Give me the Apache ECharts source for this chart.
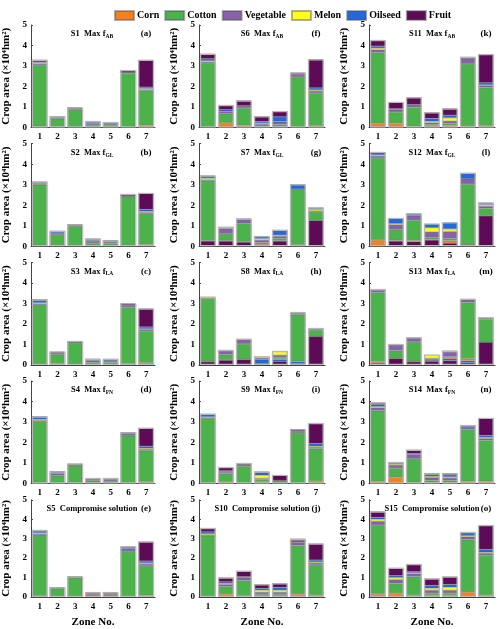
<!DOCTYPE html>
<html>
	<head>
		<meta charset="UTF-8">
		<script type="text/javascript" src="https://cdn.jsdelivr.net/npm/echarts@6/dist/echarts.min.js"></script>
		<title></title>
	</head>
	<body style="margin:0;">
	<div id="graph" style="width: 500px; height: 629px;"></div>
	<script>
		// crop names and colours
		var crops = ['Corn', 'Cotton', 'Vegetable', 'Melon', 'Oilseed', 'Fruit'];
		var colors = ['#f7801e', '#4cb24c', '#8762ab', '#ffff1a', '#2268e0', '#5f0a57'];
		var zones = ['1', '2', '3', '4', '5', '6', '7'];
		var scenarios = ['S1','S2','S3','S4','S5','S6','S7','S8','S9','S10','S11','S12','S13','S14','S15'];
		var objectives = ['AB','GL','LA','FN',''];
		var letters = ['a','b','c','d','e','f','g','h','i','j','k','l','m','n','o'];

		// crop area (x10^4 hm2), one row per scenario, one value per zone
		var corn = [
			[0.05,0.03,0.02,0.02,0.02,0.02,0.10],
			[0.03,0.05,0.02,0.05,0.02,0.02,0.08],
			[0.03,0.05,0.02,0.02,0.02,0.05,0.10],
			[0.05,0.03,0.02,0.02,0.02,0.03,0.08],
			[0.05,0.03,0.02,0.02,0.02,0.02,0.08],
			[0.02,0.22,0.10,0.03,0.03,0.02,0.08],
			[0.02,0.02,0.02,0.05,0.02,0.02,0.00],
			[0.02,0.02,0.02,0.03,0.04,0.02,0.00],
			[0.03,0.08,0.03,0.08,0.02,0.02,0.12],
			[0.03,0.15,0.05,0.05,0.05,0.15,0.10],
			[0.20,0.20,0.05,0.08,0.10,0.07,0.08],
			[0.25,0.03,0.05,0.03,0.12,0.00,0.00],
			[0.05,0.02,0.02,0.02,0.05,0.10,0.00],
			[0.10,0.30,0.05,0.05,0.05,0.10,0.10],
			[0.15,0.20,0.10,0.10,0.10,0.25,0.10]
		];
		var cotton = [
			[3.00,0.40,0.85,0.10,0.10,2.63,1.70],
			[2.97,0.50,0.95,0.10,0.12,2.40,1.50],
			[2.90,0.45,1.05,0.10,0.10,2.75,1.55],
			[3.00,0.35,0.85,0.12,0.10,2.30,1.52],
			[3.15,0.40,0.98,0.10,0.10,2.30,1.52],
			[3.13,0.45,0.85,0.10,0.12,2.45,1.60],
			[2.93,0.33,0.90,0.08,0.12,2.70,0.42],
			[3.05,0.26,0.75,0.02,0.08,2.28,0.32],
			[3.15,0.40,0.82,0.12,0.12,2.45,1.58],
			[3.12,0.40,0.80,0.10,0.10,2.50,1.55],
			[3.45,0.55,0.93,0.08,0.10,3.03,1.87],
			[4.00,0.52,1.00,0.10,0.10,2.95,0.37],
			[3.38,0.38,0.95,0.05,0.05,2.75,1.13],
			[3.45,0.45,1.15,0.10,0.10,2.55,2.00],
			[3.55,0.50,0.95,0.10,0.10,2.70,2.05]
		];
		var vegetable = [
			[0.07,0.05,0.05,0.08,0.04,0.05,0.05],
			[0.03,0.08,0.03,0.10,0.05,0.03,0.07],
			[0.05,0.05,0.05,0.08,0.06,0.05,0.08],
			[0.03,0.10,0.03,0.05,0.06,0.05,0.07],
			[0.05,0.03,0.02,0.05,0.05,0.10,0.10],
			[0.05,0.10,0.10,0.05,0.13,0.05,0.10],
			[0.05,0.25,0.18,0.12,0.10,0.02,0.05],
			[0.03,0.20,0.22,0.05,0.10,0.10,0.05],
			[0.02,0.07,0.05,0.05,0.02,0.05,0.07],
			[0.05,0.10,0.15,0.10,0.10,0.15,0.10],
			[0.15,0.12,0.12,0.08,0.12,0.25,0.10],
			[0.10,0.25,0.23,0.27,0.35,0.27,0.10],
			[0.12,0.28,0.20,0.02,0.28,0.15,0.05],
			[0.15,0.15,0.20,0.15,0.12,0.10,0.10],
			[0.20,0.20,0.15,0.15,0.15,0.15,0.10]
		];
		var melon = [
			[0.05,0.02,0.00,0.02,0.01,0.00,0.05],
			[0.03,0.02,0.00,0.03,0.01,0.00,0.05],
			[0.05,0.02,0.00,0.02,0.02,0.00,0.03],
			[0.05,0.02,0.00,0.00,0.01,0.00,0.05],
			[0.05,0.01,0.00,0.01,0.01,0.00,0.05],
			[0.05,0.02,0.00,0.04,0.02,0.00,0.05],
			[0.07,0.03,0.02,0.07,0.05,0.00,0.07],
			[0.08,0.03,0.03,0.07,0.20,0.02,0.05],
			[0.05,0.03,0.00,0.15,0.00,0.00,0.05],
			[0.05,0.05,0.02,0.10,0.10,0.02,0.05],
			[0.07,0.02,0.00,0.06,0.15,0.00,0.03],
			[0.05,0.05,0.02,0.20,0.12,0.00,0.08],
			[0.05,0.04,0.03,0.18,0.00,0.02,0.05],
			[0.05,0.05,0.02,0.05,0.05,0.00,0.05],
			[0.10,0.10,0.05,0.10,0.15,0.05,0.05]
		];
		var oilseed = [
			[0.10,0.02,0.02,0.05,0.05,0.00,0.07],
			[0.07,0.07,0.02,0.04,0.08,0.00,0.10],
			[0.12,0.00,0.00,0.05,0.05,0.05,0.09],
			[0.10,0.05,0.02,0.03,0.03,0.05,0.10],
			[0.10,0.00,0.00,0.03,0.03,0.08,0.10],
			[0.10,0.08,0.02,0.08,0.22,0.06,0.10],
			[0.13,0.07,0.03,0.12,0.26,0.23,0.10],
			[0.00,0.00,0.00,0.17,0.08,0.07,0.00],
			[0.12,0.04,0.02,0.15,0.00,0.03,0.13],
			[0.10,0.08,0.03,0.10,0.15,0.08,0.10],
			[0.10,0.03,0.03,0.15,0.13,0.03,0.10],
			[0.15,0.28,0.08,0.20,0.32,0.28,0.10],
			[0.08,0.00,0.00,0.05,0.10,0.10,0.00],
			[0.10,0.05,0.05,0.10,0.10,0.05,0.10],
			[0.10,0.10,0.05,0.15,0.15,0.10,0.15]
		];
		var fruit = [
			[0.03,0.03,0.04,0.05,0.05,0.10,1.33],
			[0.02,0.03,0.05,0.05,0.00,0.10,0.80],
			[0.05,0.08,0.05,0.03,0.05,0.10,0.90],
			[0.05,0.05,0.05,0.05,0.05,0.07,0.90],
			[0.05,0.03,0.03,0.04,0.04,0.10,1.00],
			[0.25,0.23,0.25,0.25,0.28,0.10,1.40],
			[0.25,0.25,0.20,0.05,0.25,0.05,1.25],
			[0.15,0.22,0.25,0.08,0.18,0.08,1.38],
			[0.03,0.18,0.08,0.03,0.26,0.10,1.00],
			[0.20,0.22,0.30,0.20,0.20,0.10,0.85],
			[0.30,0.33,0.34,0.29,0.33,0.07,1.40],
			[0.05,0.25,0.22,0.30,0.15,0.08,1.48],
			[0.02,0.30,0.15,0.18,0.20,0.10,1.10],
			[0.10,0.05,0.18,0.05,0.08,0.05,0.85],
			[0.30,0.40,0.40,0.35,0.40,0.10,1.25]
		];
		var cropData = [corn, cotton, vegetable, melon, oilseed, fruit];

		// order of the stacked segments (bottom to top) in each panel
		var normalOrder = [0, 1, 2, 3, 4, 5];
		var stackOrders = {6: [5, 0, 1, 2, 3, 4], 11: [5, 0, 1, 2, 3, 4], 7: [5, 4, 0, 1, 2, 3], 12: [5, 4, 0, 1, 2, 3]};

		var font = '"Liberation Serif", "Times New Roman", serif';
		var colLeft = [29, 199, 369];
		var rowTop = [25, 143.7, 262.4, 381, 499.8];
		var plotW = 126, plotH = 102.5;

		var grids = [], xAxes = [], yAxes = [], series = [], titles = [];
		for (var p = 0; p < 15; p++) {
			var col = Math.floor(p / 5), row = p % 5;
			grids.push({left: colLeft[col], top: rowTop[row], width: plotW, height: plotH});
			xAxes.push({
				type: 'category', gridIndex: p, data: zones,
				name: row == 4 ? 'Zone No.' : '', nameLocation: 'middle', nameGap: 20,
				nameTextStyle: {fontFamily: font, fontWeight: 'bold', fontSize: 11, color: '#000'},
				axisLine: {lineStyle: {color: '#444'}},
				axisTick: {alignWithLabel: true, inside: true, length: 2, lineStyle: {color: '#444'}},
				axisLabel: {fontFamily: font, fontWeight: 'bold', fontSize: 9, color: '#000', margin: 5}
			});
			yAxes.push({
				type: 'value', gridIndex: p, min: 0, max: 5, interval: 1,
				name: 'Crop area (×10⁴hm²)', nameLocation: 'middle', nameGap: 19,
				nameTextStyle: {fontFamily: font, fontWeight: 'bold', fontSize: 11, color: '#000'},
				axisLine: {show: true, lineStyle: {color: '#444'}},
				axisTick: {show: true, inside: true, length: 2, lineStyle: {color: '#444'}},
				axisLabel: {fontFamily: font, fontWeight: 'bold', fontSize: 9, color: '#000', margin: 4},
				splitLine: {show: false}
			});
			var obj = objectives[row];
			var txt = obj ? '{n|' + scenarios[p] + '  Max f}{s|' + obj + '}' : '{n|' + scenarios[p] + '  Compromise solution}';
			titles.push({
				text: txt, left: colLeft[col] + plotW / 2, top: rowTop[row] + 3, textAlign: 'center', padding: 0,
				textStyle: {rich: {
					n: {fontFamily: font, fontWeight: 'bold', fontSize: 8.5, color: '#000', lineHeight: 12},
					s: {fontFamily: font, fontWeight: 'bold', fontSize: 5.5, color: '#000', lineHeight: 12, padding: [5, 0, 0, 0]}
				}}
			});
			titles.push({
				text: '(' + letters[p] + ')', left: colLeft[col] + plotW - 9, top: rowTop[row] + 3, textAlign: 'center', padding: 0,
				textStyle: {fontFamily: font, fontWeight: 'bold', fontSize: 9, color: '#000', lineHeight: 12}
			});
			var order = stackOrders[p] || normalOrder;
			for (var k = 0; k < order.length; k++) {
				var c = order[k];
				series.push({
					type: 'bar', name: crops[c], xAxisIndex: p, yAxisIndex: p, stack: 'st' + p,
					barWidth: 15, data: cropData[c][p], color: colors[c],
					itemStyle: {color: colors[c], borderColor: 'rgba(80,80,80,0.45)', borderWidth: 0.5}
				});
			}
			// light grey outline around each whole bar
			var totals = [];
			for (var z = 0; z < zones.length; z++) {
				var t = 0;
				for (var c2 = 0; c2 < 6; c2++) t += cropData[c2][p][z];
				totals.push(+t.toFixed(2));
			}
			series.push({
				type: 'bar', name: 'outline', xAxisIndex: p, yAxisIndex: p, barWidth: 16, barGap: '-100%',
				data: totals, silent: true, z: 3,
				itemStyle: {color: 'rgba(0,0,0,0)', borderColor: '#b8b8b8', borderWidth: 1.2}
			});
		}

		var myChart = echarts.init(document.getElementById('graph'));
		var option = {
			animation: false,
			backgroundColor: '#fff',
			title: titles,
			legend: {
				data: crops, left: 109, top: 5, icon: 'rect', itemWidth: 19, itemHeight: 9, itemGap: 5,
				textStyle: {fontFamily: font, fontWeight: 'bold', fontSize: 10, color: '#000', padding: [0, 0, 0, -2]}
			},
			grid: grids,
			xAxis: xAxes,
			yAxis: yAxes,
			series: series
		};
		myChart.setOption(option);
	</script>
	</body>
</html>
